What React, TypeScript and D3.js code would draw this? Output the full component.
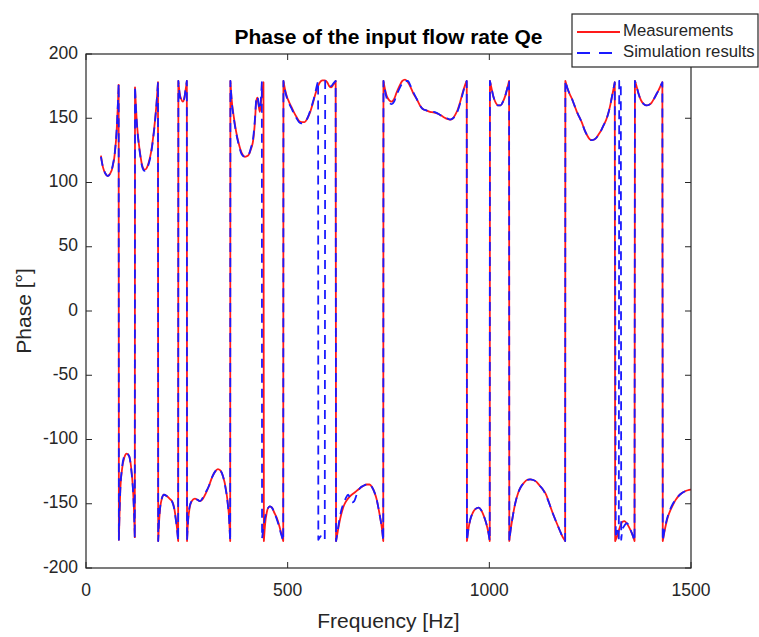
import React from 'react';
import * as d3 from 'd3';

type Pt = [number, number];

// Measured phase (frequency Hz, phase deg)
const measured: Pt[] = [
  [37, 121], [42, 112], [48, 107], [54, 105], [60, 107], [66, 112], [72, 124], [76, 140], [79, 160], [81, 176],
  [81.5, -178], [83, -160], [85, -140], [89, -124], [95, -114], [101, -111], [107, -113], [112, -122], [116, -136], [119, -155], [121, -176],
  [121.5, 174], [124, 158], [127, 143], [130, 133], [134, 123], [138, 115], [142, 111], [146, 110], [150, 111], [155, 115], [161, 123], [166, 134], [171, 148], [175, 162], [178.5, 178],
  [179, -179], [181, -165], [184, -153], [188, -146], [193, -143], [200, -144], [207, -146], [213, -148], [218, -152], [222, -160], [226, -170], [228.5, -179],
  [229, 179], [232, 170], [236, 165], [240, 163], [244, 166], [247, 172], [250, 179],
  [250.5, -179], [253, -164], [257, -153], [262, -148], [270, -146], [277, -147], [283, -148], [290, -146], [297, -142], [305, -136], [313, -129], [320, -125], [327, -123], [333, -124], [340, -129], [346, -137], [351, -148], [355, -162], [357.5, -179],
  [358, 179], [361, 165], [366, 152], [372, 140], [379, 130], [386, 123], [394, 120], [402, 121], [409, 126], [415, 134], [419, 148], [422, 163], [425, 166], [428, 160], [431, 155], [434, 163], [437, 170], [440, 178],
  [441, -179], [444, -166], [448, -157], [452, -153], [456, -152], [461, -153], [467, -157], [473, -161], [479, -167], [484, -173], [489, -179],
  [489.5, 179], [493, 173], [498, 167], [503, 163], [509, 159], [515, 155], [522, 151], [528, 148], [535, 147], [542, 147], [549, 150], [556, 155], [562, 161], [568, 168], [574, 174], [580, 178], [586, 179.5], [592, 179.5], [598, 178], [603, 175], [608, 174], [613, 176], [619, 179],
  [620, -179], [624, -172], [628, -165], [633, -158], [640, -151], [647, -147], [655, -144], [663, -142], [671, -140], [679, -138], [688, -136], [696, -135], [703, -135], [709, -137], [715, -141], [721, -147], [726, -155], [730, -162], [734, -170], [737, -179],
  [737.5, 179], [741, 173], [746, 167], [752, 164], [758, 163], [764, 165], [770, 170], [777, 175], [784, 179], [791, 180], [798, 178], [805, 174], [812, 169], [820, 165], [828, 160], [836, 157], [845, 156], [853, 155], [862, 154.5], [873, 153.5], [886, 151], [895, 149.5], [903, 149], [910, 150], [916, 153], [922, 157], [928, 163], [934, 170], [940, 176], [944, 179],
  [944.5, -179], [948, -170], [953, -162], [959, -157], [966, -154], [973, -153], [980, -155], [987, -160], [993, -166], [998, -173], [1001, -179],
  [1001.5, 179], [1005, 174], [1010, 167], [1016, 162], [1022, 160], [1028, 160], [1034, 163], [1040, 168], [1045, 174], [1049, 179],
  [1049.5, -179], [1053, -170], [1058, -160], [1064, -150], [1071, -142], [1078, -137], [1085, -134], [1093, -131.5], [1101, -131], [1109, -131.5], [1117, -133], [1125, -136], [1133, -139], [1141, -143], [1150, -151], [1158, -158], [1167, -165], [1175, -171], [1182, -176], [1188, -179],
  [1188.5, 179], [1193, 174], [1199, 169], [1205, 165], [1211, 160], [1217, 155], [1223, 151], [1229, 147], [1236, 141], [1242, 137], [1248, 134], [1254, 133], [1260, 133.5], [1266, 135], [1272, 138], [1278, 141], [1284, 145], [1290, 149], [1296, 155], [1301, 162], [1306, 170], [1311, 178],
  [1312, -179], [1316, -176], [1320, -172], [1325, -167], [1330, -164], [1335, -163.5], [1340, -165], [1346, -168], [1352, -172], [1357, -176], [1360, -179],
  [1361, 179], [1365, 175], [1370, 169], [1376, 164], [1383, 161], [1390, 160], [1396, 160.5], [1402, 162], [1408, 165], [1414, 168.5], [1420, 172], [1425, 175.5], [1429, 178],
  [1430, -179], [1434, -172], [1438, -166], [1443, -160], [1449, -155], [1455, -151], [1462, -147], [1469, -144], [1476, -142], [1484, -140.5], [1492, -139.5], [1500, -139],
];

// Simulated phase (frequency Hz, phase deg)
const simulated: Pt[] = [
  [37, 120], [42, 112], [48, 107], [54, 105], [60, 107], [66, 113], [72, 125], [76, 141], [79, 161], [81, 177],
  [81.5, -178], [83, -158], [85, -139], [89, -123], [95, -113], [101, -111], [107, -113], [112, -123], [116, -137], [119, -156], [121, -177],
  [121.5, 175], [124, 157], [127, 142], [130, 132], [134, 122], [138, 114], [142, 110], [146, 109], [150, 110], [155, 114], [161, 122], [166, 133], [171, 147], [175, 162], [178.5, 178],
  [179, -179], [181, -164], [184, -152], [188, -146], [193, -143], [200, -144], [207, -146], [213, -148], [218, -153], [222, -161], [226, -171], [228.5, -179],
  [229, 179], [232, 169], [236, 164], [240, 163], [244, 166], [247, 173], [250, 179],
  [250.5, -179], [253, -163], [257, -152], [262, -148], [270, -146], [277, -147], [283, -148], [290, -145], [297, -141], [305, -136], [313, -129], [320, -125], [327, -123], [333, -124], [340, -129], [346, -138], [351, -149], [355, -163], [357.5, -179],
  [358, 179], [361, 164], [366, 151], [372, 139], [379, 129], [386, 122], [394, 120], [402, 121], [409, 127], [415, 136], [419, 150], [422, 164], [425, 167], [428, 161], [431, 157], [434, 167], [436, 178],
  [436.5, -177], [439, -171], [442, -164], [445, -159], [448, -156], [452, -153], [456, -152], [461, -153], [467, -157], [473, -162], [479, -168], [484, -174], [489, -179],
  [489.5, 179], [493, 172], [498, 166], [503, 162], [509, 158], [515, 154], [522, 150], [528, 147], [535, 146], [542, 147], [549, 150], [556, 156], [562, 162], [568, 169], [572, 175], [575.5, 179],
  [576, -178], [580, -176], [584, -175], [588, -176], [592, -178],
  [593, 179], [598, 178], [603, 176], [608, 175], [613, 177], [619, 179],
  [620, -179], [624, -171], [628, -163], [633, -155], [640, -149], [645, -145], [650, -143], [655, -146], [660, -149], [665, -148], [671, -143], [679, -138], [688, -136], [696, -135], [703, -135], [709, -137], [715, -141], [721, -147], [726, -155], [730, -162], [734, -170], [737, -179],
  [737.5, 179], [741, 172], [746, 165], [752, 162], [758, 161], [764, 163], [770, 168], [777, 173], [784, 177], [791, 179], [798, 179], [805, 175], [812, 170], [820, 165], [828, 160], [836, 157], [845, 156], [853, 155], [862, 155], [873, 153.5], [886, 151], [895, 150], [903, 149], [910, 150], [916, 152], [922, 156], [928, 162], [934, 169], [940, 176], [944, 179],
  [944.5, -179], [948, -170], [953, -162], [959, -157], [966, -154], [973, -153], [980, -155], [987, -160], [993, -166], [998, -173], [1001, -179],
  [1001.5, 179], [1005, 174], [1010, 167], [1016, 162], [1022, 160], [1028, 160], [1034, 163], [1040, 168], [1045, 174], [1049, 179],
  [1049.5, -179], [1053, -170], [1058, -160], [1064, -150], [1071, -142], [1078, -137], [1085, -134], [1093, -131.5], [1101, -131], [1109, -131.5], [1117, -133], [1125, -136], [1133, -139], [1141, -144], [1150, -151], [1158, -158], [1167, -165], [1175, -171], [1182, -176], [1188, -179],
  [1188.5, 179], [1193, 174], [1199, 169], [1205, 165], [1211, 160], [1217, 155], [1223, 151], [1229, 147], [1236, 141], [1242, 137], [1248, 134], [1254, 133], [1260, 133.5], [1266, 135], [1272, 138], [1278, 141], [1284, 145], [1290, 149], [1296, 155], [1301, 162], [1306, 170], [1311, 178],
  [1313.5, -177], [1317, -171], [1320, -172], [1321, -178],
  [1322, 179], [1326, 179],
  [1327, -178], [1330, -170], [1333, -168], [1337, -166], [1341, -165], [1346, -167], [1351, -171], [1356, -175], [1360, -179],
  [1361, 179], [1365, 175], [1370, 169], [1376, 164], [1383, 161], [1390, 160], [1396, 160.5], [1402, 162], [1408, 165], [1414, 168.5], [1420, 172], [1425, 175.5], [1429, 178],
  [1430, -179], [1434, -171], [1438, -165], [1443, -159], [1449, -154], [1455, -150], [1462, -147], [1469, -144], [1476, -142], [1484, -140.5], [1492, -139.5], [1500, -139],
];

const xTicks = [0, 500, 1000, 1500];
const yTicks = [-200, -150, -100, -50, 0, 50, 100, 150, 200];
const seriesNames = ['Measurements', 'Simulation results'];
const titleText = 'Phase of the input flow rate Qe';
const xLabelText = 'Frequency [Hz]';
const yLabelText = 'Phase [°]';

const W = 759;
const H = 637;
const left = 86;
const right = 691;
const top = 54;
const bottom = 568;
const axisColor = '#262626';
const font = '"Liberation Sans", Arial, Helvetica, sans-serif';

function wrappedPath(data: Pt[], x: d3.ScaleLinear<number, number>, y: d3.ScaleLinear<number, number>): string {
  const segs: Pt[][] = [];
  let cur: Pt[] = [data[0]];
  for (let i = 1; i < data.length; i++) {
    if (Math.abs(data[i][1] - data[i - 1][1]) > 180) {
      segs.push(cur);
      cur = [];
    }
    cur.push(data[i]);
  }
  segs.push(cur);
  const line = d3
    .line<Pt>()
    .x((d) => x(d[0]))
    .y((d) => y(d[1]))
    .curve(d3.curveMonotoneX);
  return segs
    .map((s, i) => {
      let p = line(s) || '';
      p = p.replace(/Z$/, '');
      return i === 0 ? p : 'L' + p.slice(1);
    })
    .join('');
}

export default function App() {
  const x = d3.scaleLinear().domain([0, 1500]).range([left, right]);
  const y = d3.scaleLinear().domain([-200, 200]).range([bottom, top]);
  const measPath = wrappedPath(measured, x, y);
  const simPath = wrappedPath(simulated, x, y);
  const tickLen = 6;
  const legX = 572;
  const legY = 14;
  const legW = 186;
  const legH = 53;

  return (
    <svg
      width={W}
      height={H}
      viewBox={`0 0 ${W} ${H}`}
      style={{ position: 'absolute', left: 0, top: 0, display: 'block', background: '#fff' }}
      fontFamily={font}
    >
      <rect x={0} y={0} width={W} height={H} fill="#fff" />
      <defs>
        <clipPath id="plotClip">
          <rect x={left} y={top} width={right - left} height={bottom - top} />
        </clipPath>
      </defs>

      {/* data */}
      <g clipPath="url(#plotClip)">
        <path d={measPath} fill="none" stroke="#ff1a1a" strokeWidth={1.8} strokeLinejoin="round" />
        <path d={simPath} fill="none" stroke="#1a1aff" strokeWidth={1.8} strokeDasharray="9,6" strokeLinejoin="round" />
      </g>

      {/* box */}
      <rect x={left} y={top} width={right - left} height={bottom - top} fill="none" stroke={axisColor} strokeWidth={1.2} />

      {/* x ticks */}
      {xTicks.map((t) => (
        <g key={'xt' + t}>
          <line x1={x(t)} x2={x(t)} y1={bottom} y2={bottom - tickLen} stroke={axisColor} strokeWidth={1} />
          <line x1={x(t)} x2={x(t)} y1={top} y2={top + tickLen} stroke={axisColor} strokeWidth={1} />
          <text x={x(t)} y={591} textAnchor="middle" dominantBaseline="middle" fontSize={17.5} fill={axisColor}>
            {t}
          </text>
        </g>
      ))}

      {/* y ticks */}
      {yTicks.map((t) => (
        <g key={'yt' + t}>
          <line x1={left} x2={left + tickLen} y1={y(t)} y2={y(t)} stroke={axisColor} strokeWidth={1} />
          <line x1={right} x2={right - tickLen} y1={y(t)} y2={y(t)} stroke={axisColor} strokeWidth={1} />
          <text x={78} y={y(t)} textAnchor="end" dominantBaseline="middle" fontSize={17.5} fill={axisColor}>
            {t}
          </text>
        </g>
      ))}

      {/* axis labels */}
      <text x={(left + right) / 2} y={622} textAnchor="middle" dominantBaseline="middle" fontSize={21} fill={axisColor}>
        {xLabelText}
      </text>
      <text
        transform={`translate(25, ${(top + bottom) / 2}) rotate(-90)`}
        textAnchor="middle"
        dominantBaseline="middle"
        fontSize={21}
        fill={axisColor}
      >
        {yLabelText}
      </text>

      {/* title */}
      <text x={(left + right) / 2} y={38} textAnchor="middle" dominantBaseline="middle" fontSize={21} fontWeight="bold" fill="#000">
        {titleText}
      </text>

      {/* legend */}
      <rect x={legX} y={legY} width={legW} height={legH} fill="#fff" stroke={axisColor} strokeWidth={1.2} />
      <line x1={577} x2={620} y1={32} y2={32} stroke="#ff1a1a" strokeWidth={1.8} />
      <text x={623} y={32} dominantBaseline="middle" fontSize={16.7} fill={axisColor}>
        {seriesNames[0]}
      </text>
      <line x1={577} x2={620} y1={53} y2={53} stroke="#1a1aff" strokeWidth={1.8} strokeDasharray="13,9" />
      <text x={623} y={53} dominantBaseline="middle" fontSize={16.7} fill={axisColor}>
        {seriesNames[1]}
      </text>
    </svg>
  );
}
